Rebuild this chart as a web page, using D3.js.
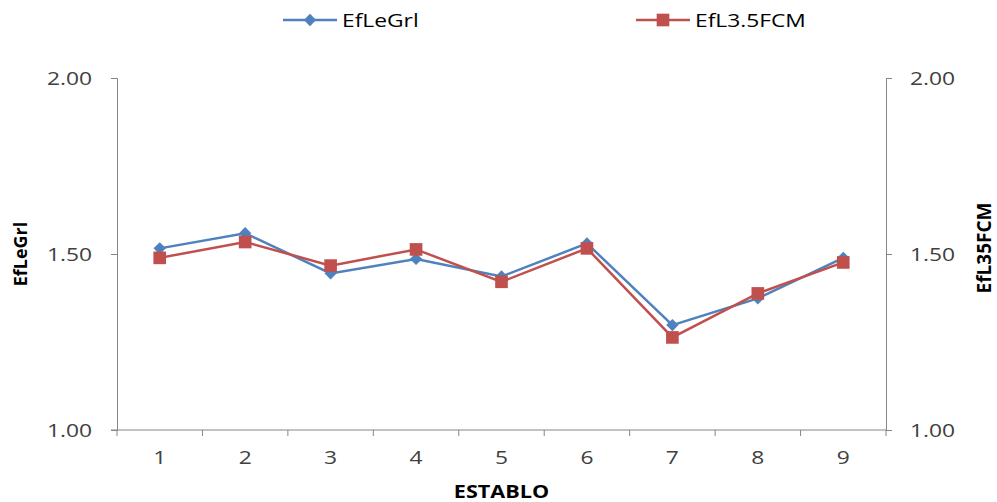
<!DOCTYPE html>
<html>
<head>
<meta charset="utf-8">
<script src="https://cdn.jsdelivr.net/npm/d3@7"></script>
<style>
  body { margin: 0; background: #fff; }
  svg text { font-family: "Open Sans", "Noto Sans", sans-serif; }
</style>
</head>
<body>
<svg id="chart" width="997" height="502"></svg>
<script>
// Efficiency per barn (establo), two indicators on twin axes
const establos = ["1", "2", "3", "4", "5", "6", "7", "8", "9"];
const efLeGrl = [1.516, 1.559, 1.445, 1.486, 1.436, 1.530, 1.298, 1.374, 1.489];
const efL35FCM = [1.489, 1.534, 1.467, 1.513, 1.421, 1.516, 1.263, 1.388, 1.476];
const yTicks = [1.00, 1.50, 2.00];
const seriesNames = ["EfLeGrl", "EfL3.5FCM"];
const leftTitle = "EfLeGrl";
const rightTitle = "EfL35FCM";
const bottomTitle = "ESTABLO";

const BLUE = "#4F81BD";
const RED = "#C0504D";
const AXIS = "#868686";
const LABEL = "#404040";
const SX = 1.2; // horizontal stretch applied to label text

const svg = d3.select("#chart");
const plot = { left: 117, right: 886, top: 78, bottom: 430 };

const x = d3.scaleBand().domain(establos).range([plot.left, plot.right]).padding(0);
const yL = d3.scaleLinear().domain([1, 2]).range([plot.bottom, plot.top]);
const yR = d3.scaleLinear().domain([1, 2]).range([plot.bottom, plot.top]);
const cx = d => x(d) + x.bandwidth() / 2;

// Left axis
const gL = svg.append("g").attr("transform", `translate(${plot.left},0)`)
  .call(d3.axisLeft(yL).tickValues(yTicks).tickFormat(d3.format(".2f")).tickSizeOuter(0).tickSize(6));
gL.select(".domain").attr("stroke", AXIS);
gL.selectAll(".tick line").attr("stroke", AXIS);
gL.selectAll(".tick text")
  .attr("x", -25 / SX).attr("dy", "0.36em")
  .attr("transform", `scale(${SX},1)`)
  .attr("fill", LABEL).style("font-size", "19px");

// Right axis
const gR = svg.append("g").attr("transform", `translate(${plot.right},0)`)
  .call(d3.axisRight(yR).tickValues(yTicks).tickFormat(d3.format(".2f")).tickSizeOuter(0).tickSize(6));
gR.select(".domain").attr("stroke", AXIS);
gR.selectAll(".tick line").attr("stroke", AXIS);
gR.selectAll(".tick text")
  .attr("x", 24 / SX).attr("dy", "0.36em")
  .attr("transform", `scale(${SX},1)`)
  .attr("fill", LABEL).style("font-size", "19px");

// Bottom axis: labels at category centres, tick marks at category boundaries
const gB = svg.append("g").attr("transform", `translate(0,${plot.bottom})`)
  .call(d3.axisBottom(x).tickSize(0).tickSizeOuter(0));
gB.select(".domain").remove();
gB.selectAll(".tick text")
  .attr("y", 27).attr("dy", "0.36em")
  .attr("transform", `scale(${SX},1)`)
  .attr("fill", LABEL).style("font-size", "19px");
gB.append("line")
  .attr("x1", plot.left - 6).attr("x2", plot.right).attr("y1", 0).attr("y2", 0)
  .attr("stroke", AXIS);
const boundaries = establos.map(d => x(d)).concat([x.range()[1]]);
gB.selectAll("line.bound").data(boundaries).join("line")
  .attr("class", "bound")
  .attr("x1", d => d).attr("x2", d => d).attr("y1", 0).attr("y2", 6)
  .attr("stroke", AXIS);

// Axis titles
svg.append("text")
  .attr("transform", `translate(27,${(plot.top + plot.bottom) / 2}) rotate(-90)`)
  .attr("text-anchor", "middle").style("font-size", "18px").style("font-weight", "bold")
  .attr("fill", "#000").text(leftTitle);
svg.append("text")
  .attr("transform", `translate(991,${(plot.top + plot.bottom) / 2 - 6}) rotate(-90)`)
  .attr("text-anchor", "middle").style("font-size", "19px").style("font-weight", "bold")
  .attr("fill", "#000").text(rightTitle);
svg.append("text")
  .attr("transform", `translate(${(plot.left + plot.right) / 2},498) scale(${SX},1)`)
  .attr("text-anchor", "middle").style("font-size", "18px").style("font-weight", "bold")
  .attr("fill", "#000").text(bottomTitle);

// Series
const line = y => d3.line().x((v, i) => cx(establos[i])).y(v => y(v));

svg.append("path").datum(efLeGrl)
  .attr("d", line(yL)).attr("fill", "none").attr("stroke", BLUE).attr("stroke-width", 2.5);
svg.append("path").datum(efL35FCM)
  .attr("d", line(yR)).attr("fill", "none").attr("stroke", RED).attr("stroke-width", 2.5);

const diamond = d3.symbol().type(d3.symbolSquare).size(76);
const square = d3.symbol().type(d3.symbolSquare).size(160);

svg.selectAll("path.dia").data(efLeGrl).join("path")
  .attr("class", "dia")
  .attr("d", diamond)
  .attr("transform", (v, i) => `translate(${cx(establos[i])},${yL(v)}) rotate(45)`)
  .attr("fill", BLUE);
svg.selectAll("path.sq").data(efL35FCM).join("path")
  .attr("class", "sq")
  .attr("d", square)
  .attr("transform", (v, i) => `translate(${cx(establos[i])},${yR(v)})`)
  .attr("fill", RED);

// Legend
const legend = [
  { name: seriesNames[0], color: BLUE, sym: diamond, rot: 45, x0: 283 },
  { name: seriesNames[1], color: RED, sym: square, rot: 0, x0: 636 }
];
const lg = svg.selectAll("g.legend").data(legend).join("g")
  .attr("class", "legend")
  .attr("transform", d => `translate(${d.x0},20)`);
lg.append("line").attr("x1", 0).attr("x2", 54).attr("y1", 0).attr("y2", 0)
  .attr("stroke", d => d.color).attr("stroke-width", 2.5);
lg.append("path").attr("d", d => d.sym())
  .attr("transform", d => `translate(27,0) rotate(${d.rot})`)
  .attr("fill", d => d.color);
lg.append("text")
  .attr("transform", `translate(59,0) scale(${SX},1)`)
  .attr("dy", "0.36em").style("font-size", "19px").attr("fill", "#000")
  .text(d => d.name);
</script>
</body>
</html>
